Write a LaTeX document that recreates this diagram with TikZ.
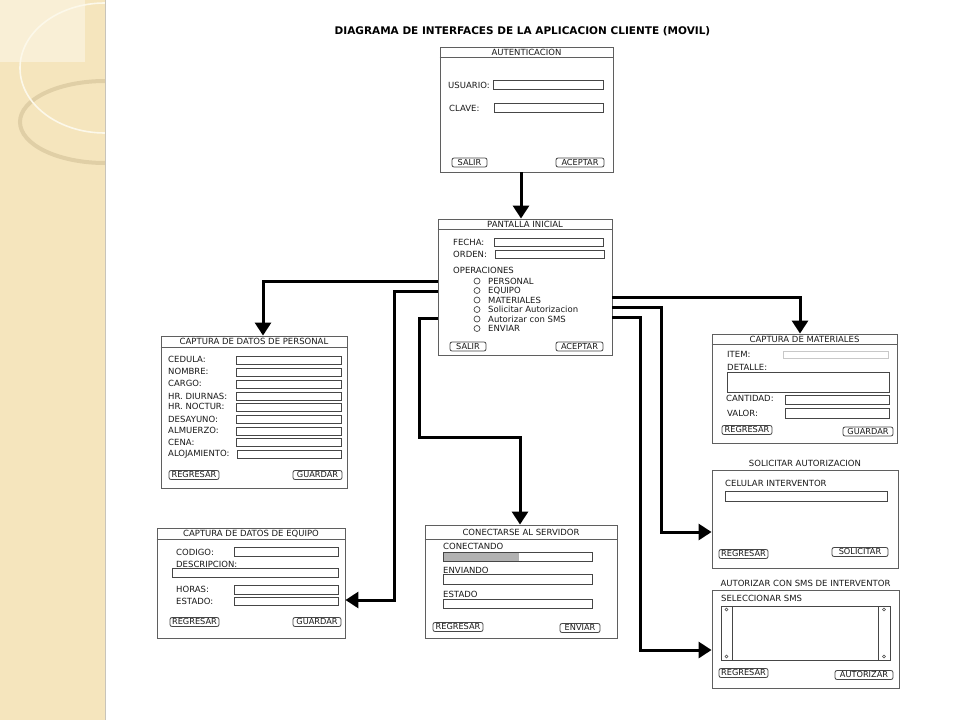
\documentclass[tikz,border=0pt]{standalone}
\usepackage{fontspec}
\setmainfont{DejaVu Sans}
\usetikzlibrary{arrows.meta}
\definecolor{stripc}{RGB}{245,229,189}
\definecolor{lightc}{RGB}{249,239,214}
\definecolor{creamc}{RGB}{252,248,234}
\definecolor{ringc}{RGB}{224,207,166}
\definecolor{edgec}{RGB}{200,196,186}
\definecolor{boxgray}{RGB}{95,95,95}
\definecolor{fieldgray}{RGB}{70,70,70}
\definecolor{txt}{RGB}{25,25,25}
\definecolor{progc}{RGB}{178,178,178}
\definecolor{itemc}{RGB}{200,200,200}
\newcommand\lblfont{\fontsize{8.5}{9.5}\selectfont}
\newcommand\btnfont{\fontsize{8.2}{9}\selectfont}
\newcommand\lb[4]{\node[lbl] (#1) at (#2,#3) {#4};}
\newcommand\fld[4]{\draw[fieldst] (#1,#2) rectangle (#3,#4);}
\begin{document}
\begin{tikzpicture}[x=1pt,y=-1pt,
 screen/.style={draw=boxgray, line width=0.9pt, fill=white, inner sep=0pt},
 barline/.style={draw=boxgray, line width=0.9pt},
 fieldst/.style={draw=fieldgray, line width=0.8pt},
 lbl/.style={font=\lblfont, anchor=west, inner sep=0pt, text=txt},
 ttl/.style={font=\lblfont, inner sep=0pt, text=txt},
 btn/.style={draw=fieldgray, line width=0.8pt, rounded corners=2pt, inner sep=0pt, font=\btnfont, text=txt, minimum height=9pt},
 conn/.style={line width=3pt, -{Triangle[width=16pt,length=13pt]}},
 radio/.style={circle, draw=fieldgray, line width=0.7pt, minimum size=6pt, inner sep=0pt}]
\useasboundingbox (0,0) rectangle (960,720);
\fill[white] (0,0) rectangle (960,720);
% decorative strip
\fill[stripc] (0,0) rectangle (105,720);
\fill[lightc] (0,0) rectangle (85,62);
\begin{scope}
\clip (0,0) rectangle (105,720);
\draw[ringc, line width=4pt] (105,122) ellipse [x radius=85, y radius=41];
\draw[creamc, line width=1.6pt] (105,68) ellipse [x radius=85, y radius=65];
\end{scope}
\draw[edgec, line width=1pt] (105.5,0) -- (105.5,720);
% title
\node[font=\fontsize{10.5}{12}\selectfont\bfseries, inner sep=0pt] (title) at (522.5,31) {DIAGRAMA DE INTERFACES DE LA APLICACION CLIENTE (MOVIL)};
% screens
\node[screen, minimum width=173pt, minimum height=125pt] (aut) at (526.5,109.5) {};
\node[screen, minimum width=174pt, minimum height=136pt] (pant) at (525,287) {};
\node[screen, minimum width=186pt, minimum height=152pt] (pers) at (254,412) {};
\node[screen, minimum width=188pt, minimum height=110pt] (equi) at (251,583) {};
\node[screen, minimum width=192pt, minimum height=113pt] (conn) at (521,581.5) {};
\node[screen, minimum width=185pt, minimum height=109pt] (mat) at (804.5,388.5) {};
\node[screen, minimum width=186pt, minimum height=98pt] (sol) at (805,519) {};
\node[screen, minimum width=187pt, minimum height=98pt] (sms) at (805.5,639) {};
% connectors
\draw[conn] (aut.south -| 521,0) -- (pant.north -| 521,0);
\draw[conn] (pant.west |- 0,281) -| (pers.north -| 263,0);
\draw[conn] (pant.west |- 0,291) -| (394,600) -- (equi.east |- 0,600);
\draw[conn] (pant.west |- 0,318) -| (419,437) -| (conn.north -| 520,0);
\draw[conn] (pant.east |- 0,297) -| (mat.north -| 800,0);
\draw[conn] (pant.east |- 0,307) -| (661,532) -- (sol.west |- 0,532);
\draw[conn] (pant.east |- 0,317) -| (640,650) -- (sms.west |- 0,650);
% AUTENTICACION
\draw[barline] (aut.west |- 0,57) -- (aut.east |- 0,57);
\node[ttl] (autt) at (526.5,52) {AUTENTICACION};
\lb{a1}{448}{85}{USUARIO:}
\fld{493}{80}{603}{89}
\lb{a2}{449}{108}{CLAVE:}
\fld{494}{103}{603}{112}
\node[btn, minimum width=35pt] (a3) at (469.5,162.5) {SALIR};
\node[btn, minimum width=48pt] (a4) at (580,162.5) {ACEPTAR};
% PANTALLA INICIAL
\draw[barline] (pant.west |- 0,229) -- (pant.east |- 0,229);
\node[ttl] (pantt) at (525,224) {PANTALLA INICIAL};
\lb{p1}{453}{242}{FECHA:}
\fld{494}{238}{603}{246}
\lb{p2}{453}{254}{ORDEN:}
\fld{495}{250}{604}{258}
\lb{p3}{453}{270}{OPERACIONES}
\node[radio] (r1) at (477,281) {}; \lb{q1}{488}{281}{PERSONAL}
\node[radio] (r2) at (477,290.5) {}; \lb{q2}{488}{290.5}{EQUIPO}
\node[radio] (r3) at (477,300) {}; \lb{q3}{488}{300}{MATERIALES}
\node[radio] (r4) at (477,309.5) {}; \lb{q4}{488}{309.5}{Solicitar Autorizacion}
\node[radio] (r5) at (477,319) {}; \lb{q5}{488}{319}{Autorizar con SMS}
\node[radio] (r6) at (477,328.5) {}; \lb{q6}{488}{328.5}{ENVIAR}
\node[btn, minimum width=36pt] (p4) at (468,346.5) {SALIR};
\node[btn, minimum width=47pt] (p5) at (579.5,346.5) {ACEPTAR};
% CAPTURA DE DATOS DE PERSONAL
\draw[barline] (pers.west |- 0,347) -- (pers.east |- 0,347);
\node[ttl] (perst) at (254,341.5) {CAPTURA DE DATOS DE PERSONAL};
\lb{e1}{168}{359.5}{CEDULA:} \fld{236}{356}{341}{364}
\lb{e2}{168}{371.5}{NOMBRE:} \fld{236}{368}{341}{376}
\lb{e3}{168}{383.5}{CARGO:} \fld{236}{380}{341}{388}
\lb{e4}{168}{396}{HR. DIURNAS:} \fld{236}{392}{341}{400}
\lb{e5}{168}{406.5}{HR. NOCTUR:} \fld{236}{403}{341}{411}
\lb{e6}{168}{419}{DESAYUNO:} \fld{236}{415}{341}{423}
\lb{e7}{168}{430.5}{ALMUERZO:} \fld{236}{427}{341}{435}
\lb{e8}{168}{442}{CENA:} \fld{236}{438}{341}{446}
\lb{e9}{168}{454}{ALOJAMIENTO:} \fld{237}{450}{341}{458}
\node[btn, minimum width=50pt] (e10) at (194,475) {REGRESAR};
\node[btn, minimum width=49pt] (e11) at (317.5,475) {GUARDAR};
% CAPTURA DE DATOS DE EQUIPO
\draw[barline] (equi.west |- 0,539) -- (equi.east |- 0,539);
\node[ttl] (equit) at (251,533.5) {CAPTURA DE DATOS DE EQUIPO};
\lb{k1}{176}{552}{CODIGO:} \fld{234}{547}{338}{556}
\lb{k2}{176}{564}{DESCRIPCION:} \fld{172}{568}{338}{577}
\lb{k3}{176}{589}{HORAS:} \fld{234}{585}{338}{594}
\lb{k4}{176}{601}{ESTADO:} \fld{234}{597}{338}{605}
\node[btn, minimum width=49pt] (k5) at (194.5,622) {REGRESAR};
\node[btn, minimum width=48pt] (k6) at (317,622) {GUARDAR};
% CONECTARSE AL SERVIDOR
\draw[barline] (conn.west |- 0,539) -- (conn.east |- 0,539);
\node[ttl] (connt) at (521,532) {CONECTARSE AL SERVIDOR};
\lb{c1}{443}{546}{CONECTANDO}
\fill[progc] (443,552) rectangle (519,561);
\fld{443}{552}{592}{561}
\lb{c2}{443}{570}{ENVIANDO} \fld{443}{574}{592}{584}
\lb{c3}{443}{594}{ESTADO} \fld{443}{599}{592}{608}
\node[btn, minimum width=50pt] (c4) at (458,627) {REGRESAR};
\node[btn, minimum width=40pt] (c5) at (580,628) {ENVIAR};
% CAPTURA DE MATERIALES
\draw[barline] (mat.west |- 0,344) -- (mat.east |- 0,344);
\node[ttl] (matt) at (804.5,339) {CAPTURA DE MATERIALES};
\lb{m1}{727}{354}{ITEM:} \draw[itemc, line width=0.8pt] (783,351) rectangle (888,358);
\lb{m2}{727}{367}{DETALLE:} \fld{727}{372}{889}{392}
\lb{m3}{726}{398}{CANTIDAD:} \fld{785}{395}{889}{404}
\lb{m4}{727}{413}{VALOR:} \fld{785}{408}{889}{418}
\node[btn, minimum width=50pt] (m5) at (747,430) {REGRESAR};
\node[btn, minimum width=50pt] (m6) at (868,431.5) {GUARDAR};
% SOLICITAR AUTORIZACION
\node[ttl] (solt) at (805,463.5) {SOLICITAR AUTORIZACION};
\lb{s1}{725}{483}{CELULAR INTERVENTOR} \fld{725}{491}{887}{501}
\node[btn, minimum width=49pt] (s2) at (743.5,554) {REGRESAR};
\node[btn, minimum width=56pt] (s3) at (860,552) {SOLICITAR};
% AUTORIZAR CON SMS
\node[ttl] (smst) at (805.5,583.5) {AUTORIZAR CON SMS DE INTERVENTOR};
\lb{t1}{721}{598}{SELECCIONAR SMS}
\fld{721}{606}{890}{660}
\draw[fieldst] (732,606) -- (732,660);
\draw[fieldst] (878,606) -- (878,660);
\draw[fieldgray, line width=0.5pt] (726.5,609.5) circle[radius=1.5] (726.5,656.5) circle[radius=1.5] (884,609.5) circle[radius=1.5] (884,656.5) circle[radius=1.5];
\node[btn, minimum width=49pt] (t2) at (743.5,673) {REGRESAR};
\node[btn, minimum width=58pt] (t3) at (864,675) {AUTORIZAR};
\end{tikzpicture}
\end{document}
